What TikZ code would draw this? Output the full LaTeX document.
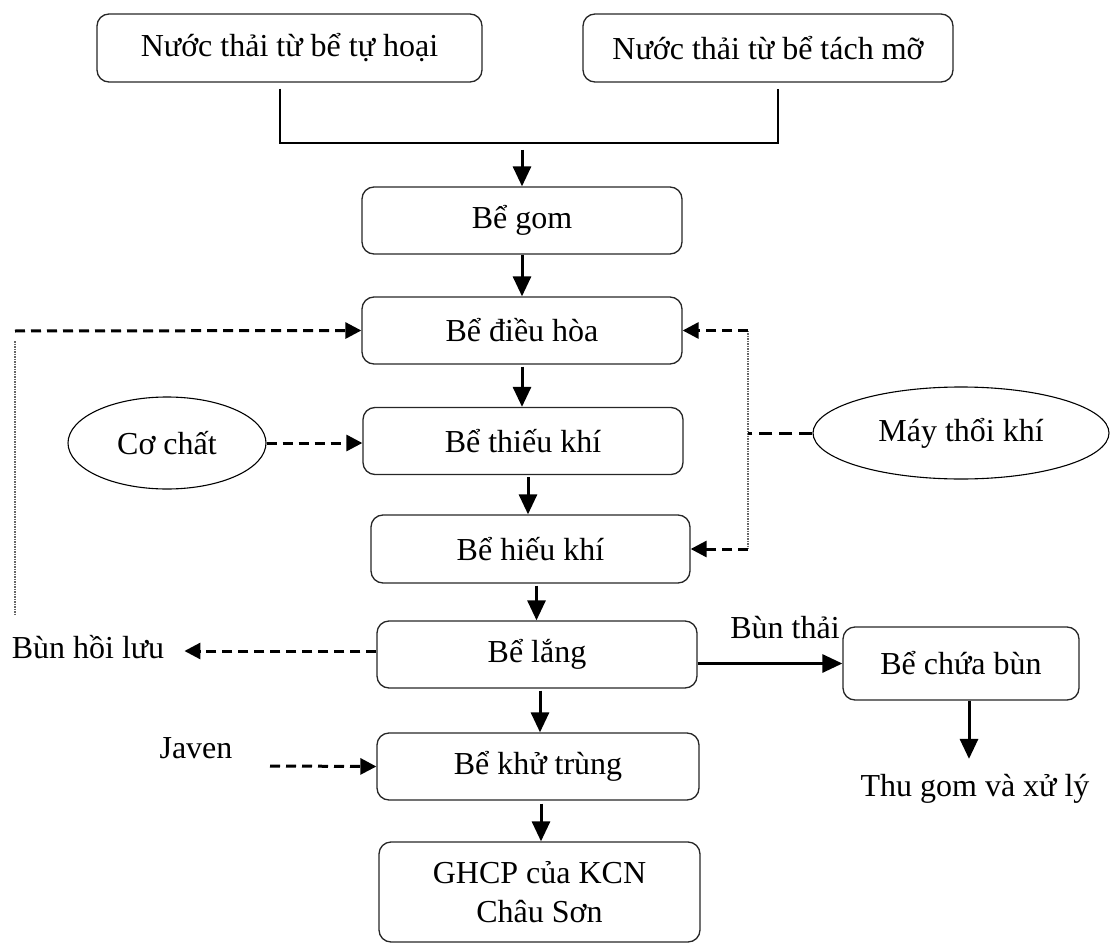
\documentclass[tikz,border=0pt]{standalone}
\usepackage{fontspec}
\setmainfont{Liberation Serif}
\usetikzlibrary{arrows.meta,shapes.geometric}
\begin{document}
\begin{tikzpicture}[x=1pt,y=-1pt,
  every node/.style={font=\fontsize{32}{39}\selectfont},
  tank/.style={draw=black!85,line width=1.3pt,rounded corners=12pt,align=center,inner sep=0pt},
  oval/.style={draw=black,line width=1.1pt,ellipse,inner sep=0pt},
  flow/.style={line width=3pt,-{Triangle[length=20pt,width=18pt]}},
  feed/.style={line width=3pt,dash pattern=on 10pt off 6pt,-{Triangle[length=16pt,width=16pt]}},
  feedline/.style={line width=3pt,dash pattern=on 13pt off 7pt},
  guide/.style={line width=1.1pt,black!60,dash pattern=on 1.5pt off 1pt},
  merge/.style={line width=2.2pt}]
\useasboundingbox (0,0) rectangle (1111,944);

% main treatment line
\node[tank,minimum width=385pt,minimum height=68pt] (src1) at (289.5,48) {Nước thải từ bể tự hoại};
\node[tank,minimum width=370pt,minimum height=68pt] (src2) at (768,48) {Nước thải từ bể tách mỡ};
\node[tank,minimum width=320pt,minimum height=67pt] (gom) at (522,220.5) {Bể gom};
\node[tank,minimum width=320pt,minimum height=67pt] (dieuhoa) at (522,330.5) {Bể điều hòa};
\node[tank,minimum width=320pt,minimum height=67pt] (thieukhi) at (523,441) {Bể thiếu khí};
\node[tank,minimum width=319pt,minimum height=68pt] (hieukhi) at (530.5,549) {Bể hiếu khí};
\node[tank,minimum width=320pt,minimum height=67pt] (lang) at (537,654.5) {Bể lắng};
\node[tank,minimum width=322pt,minimum height=67pt] (khutrung) at (538,766.5) {Bể khử trùng};
\node[tank,minimum width=321pt,minimum height=100pt] (ghcp) at (539.5,892) {GHCP của KCN\\Châu Sơn};

% sludge branch
\node[tank,minimum width=236pt,minimum height=73pt] (chuabun) at (961,663.5) {Bể chứa bùn};
\node (thugom) at (975,789) {Thu gom và xử lý};
\node (bunthai) at (785,628) {Bùn thải};
\node[inner sep=2pt] (hoiluu) at (88,647) {Bùn hồi lưu};

% dosing and aeration
\node[oval,minimum width=198pt,minimum height=92pt] (cochat) at (167,443) {Cơ chất};
\node[oval,minimum width=296pt,minimum height=92pt] (maythoi) at (961,433) {Máy thổi khí};
\node (javen) at (196,748) {Javen};

% merging the two inflows
\coordinate (jl) at (280,143);
\coordinate (jr) at (778,143);
\coordinate (jm) at (522,150);
\draw[merge] ([yshift=-6pt]src1.south -| jl) -- (jl) -- (jr) -- ([yshift=-6pt]src2.south -| jr);
\draw[flow] (jm) -- (gom.north);

% vertical flow
\draw[flow] (gom.south) -- (gom.south |- dieuhoa.north);
\draw[flow] (dieuhoa.south) ++(0,2) -- (dieuhoa.south |- thieukhi.north);
\draw[flow] ([xshift=5pt]thieukhi.south) ++(0,2) -- ([xshift=5pt]thieukhi.south |- hieukhi.north);
\draw[flow] ([xshift=6pt]hieukhi.south) ++(0,2) -- ([xshift=6pt]hieukhi.south |- lang.north);
\draw[flow] ([xshift=3pt]lang.south) ++(0,2) -- ([xshift=3pt]lang.south |- khutrung.north);
\draw[flow] ([xshift=3pt]khutrung.south) ++(0,3) -- ([xshift=3pt]khutrung.south |- ghcp.north);

% sludge lines
\draw[flow] (lang.east |- chuabun.west) -- (chuabun.west);
\draw[flow] ([xshift=8pt]chuabun.south) -- ([xshift=8pt,yshift=12pt]chuabun.south |- thugom.north);
\coordinate (hl) at (0,651);
\draw[feed] (lang.west |- hl) -- ([xshift=18pt]hoiluu.east |- hl);

% return sludge to equalisation tank
\coordinate (rtop) at (15,331);
\coordinate (rbot) at (15,614);
\draw[feed] (rtop) -- (dieuhoa.west);
\draw[guide] ([yshift=-10pt]rtop) -- (rbot);

% substrate and disinfectant dosing
\draw[feed] (cochat.east) -- (cochat.east -| thieukhi.west);
\coordinate (jv) at (270,766);
\draw[feed] (jv) -- (khutrung.west);

% air supply
\coordinate (at) at (748,330.5);
\coordinate (ab) at (748,549);
\draw[guide] (at) -- (ab);
\draw[feedline] (maythoi.west) -- (maythoi.west -| at);
\draw[feed] (at) -- (dieuhoa.east);
\draw[feed] (ab) -- (hieukhi.east);
\end{tikzpicture}
\end{document}
